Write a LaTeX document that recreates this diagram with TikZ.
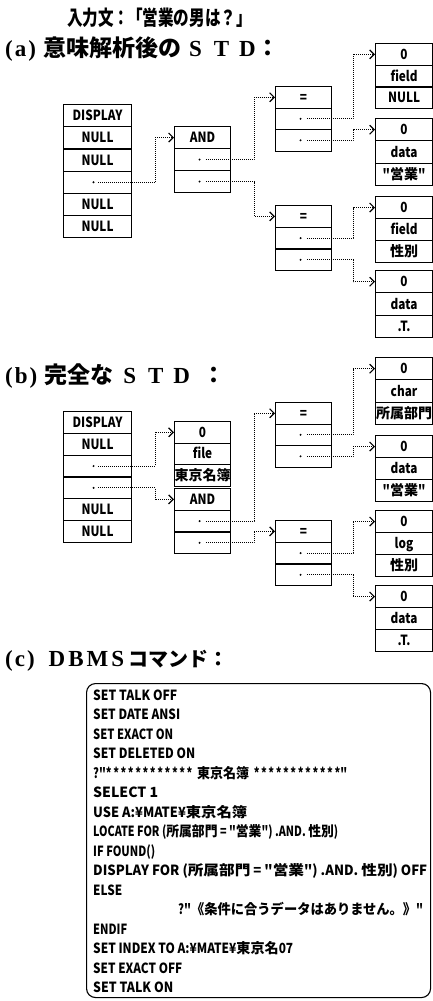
\documentclass[tikz,border=0pt]{standalone}
\usepackage{fontspec}
\setmainfont{Liberation Serif}
\newfontfamily\jp{Noto Sans CJK JP}
\usetikzlibrary{arrows.meta}
\newcommand\lt[1]{\scalebox{0.84}[1]{\fontsize{14}{14}\selectfont #1}}
\newcommand\ja[1]{{\fontsize{14}{14}\selectfont #1}}
\newcommand\stars{\lt{*\kern2pt*\kern2pt*\kern2pt*\kern2pt*\kern2pt*\kern2pt*\kern2pt*\kern2pt*\kern2pt*\kern2pt*\kern2pt*}}
\newcommand\rec[6]{%
  \foreach \t [count=\i] in {#6} {%
    \node[cell, minimum width=#4pt, minimum height=#5pt] (#1\i) at (#2,{#3+(\i-1)*#5}) {\t};
  }}
\begin{document}
\begin{tikzpicture}[x=1pt,y=-1pt,
  cell/.style={draw, line width=1.1pt, inner sep=0pt, anchor=north west,
    font=\jp\bfseries, text height=10pt, text depth=0pt, align=center},
  dotn/.style={circle, fill, inner sep=0pt, minimum size=2.2pt},
  conn/.style={line width=0.9pt, dash pattern=on 0.9pt off 1.1pt,
    -{Straight Barb[length=4.5pt,width=9pt,line width=1.2pt]}},
  hd/.style={anchor=base west, inner sep=0pt, font=\bfseries\fontsize{23}{23}\selectfont},
  code/.style={anchor=base west, inner sep=0pt, font=\jp\bfseries}]
\useasboundingbox (0,0) rectangle (433,1001);

% column x positions for connector bends
\coordinate (c1) at (155,0);
\coordinate (c2) at (254,0);
\coordinate (c3) at (353,0);

% ---------- title and headings ----------
\node[anchor=base west, inner sep=0pt] (title) at (67,25.2)
  {\scalebox{0.76}[1]{\jp\bfseries\fontsize{20.5}{20.5}\selectfont 入力文：\kern-3pt「営業の男は？」}};
\node[hd] (ha) at (5,56.5)
  {(\kern2pt a\kern2pt)\kern7pt{\jp 意味解析後の}\kern8pt S\kern12pt T\kern10pt D\kern1pt{\jp ：}};
\node[hd] (hb) at (5,383.5)
  {(\kern2pt b\kern2pt)\kern7pt{\jp 完全な}\kern10pt S\kern12pt T\kern10pt D\kern12pt{\jp ：}};
\node[hd] (hc) at (5,666.5)
  {(\kern2pt c\kern2pt)\kern14pt D\kern3pt B\kern3pt M\kern3pt S\kern4pt{\jp\fontsize{20}{20}\selectfont コマンド：}};

% ---------- (a) ----------
\rec{aS}{63}{104}{68}{22.2}{\lt{DISPLAY},\lt{NULL},\lt{NULL},{},\lt{NULL},\lt{NULL}}
\rec{aA}{174}{126}{56}{22}{\lt{AND},{},{}}
\rec{aE}{275}{86}{56}{21.5}{\lt{=},{},{}}
\rec{aF}{275}{205}{56}{21.7}{\lt{=},{},{}}
\rec{aP}{375}{43}{57}{21.7}{\lt{0},\lt{field},\lt{NULL}}
\rec{aQ}{375}{118}{57}{22.3}{\lt{0},\lt{data},\lt{"}\ja{営業}\lt{"}}
\rec{aU}{375}{196}{57}{22}{\lt{0},\lt{field},\ja{性別}}
\rec{aV}{375}{270}{57}{22.3}{\lt{0},\lt{data},\lt{.T.}}

\node[dotn] (aSd) at ([xshift=-4pt]aS4.center) {};
\node[dotn] (aAd2) at ([xshift=-3pt]aA2.center) {};
\node[dotn] (aAd3) at ([xshift=-3pt]aA3.center) {};
\node[dotn] (aEd2) at ([xshift=-3pt]aE2.center) {};
\node[dotn] (aEd3) at ([xshift=-3pt]aE3.center) {};
\node[dotn] (aFd2) at ([xshift=-3pt]aF2.center) {};
\node[dotn] (aFd3) at ([xshift=-3pt]aF3.center) {};

\draw[conn] ([xshift=3pt]aSd.east) -- (aSd -| c1) |- (aA1.west);
\draw[conn] ([xshift=5pt]aAd2.east) -- (aAd2 -| c2) |- (aE1.west);
\draw[conn] ([xshift=5pt]aAd3.east) -- (aAd3 -| c2) |- (aF1.west);
\draw[conn] ([xshift=5pt]aEd2.east) -- (aEd2 -| c3) |- (aP1.west);
\draw[conn] ([xshift=5pt]aEd3.east) -- (aEd3 -| c3) |- (aQ1.west);
\draw[conn] ([xshift=5pt]aFd2.east) -- (aFd2 -| c3) |- (aU1.west);
\draw[conn] ([xshift=5pt]aFd3.east) -- (aFd3 -| c3) |- (aV1.west);

% ---------- (b) ----------
\rec{bS}{63}{411}{68}{21.8}{\lt{DISPLAY},\lt{NULL},{},{},\lt{NULL},\lt{NULL}}
\rec{bK}{174}{421}{56}{21.5}{\lt{0},\lt{file},\ja{東京名簿}}
\rec{bA}{174}{488}{56}{21.7}{\lt{AND},{},{}}
\rec{bE}{275}{402}{56}{21.5}{\lt{=},{},{}}
\rec{bF}{275}{520}{56}{21.7}{\lt{=},{},{}}
\rec{bP}{375}{357}{57}{22.3}{\lt{0},\lt{char},\ja{所属部門}}
\rec{bQ}{375}{435}{57}{22}{\lt{0},\lt{data},\lt{"}\ja{営業}\lt{"}}
\rec{bU}{375}{510}{57}{22}{\lt{0},\lt{log},\ja{性別}}
\rec{bV}{375}{585}{57}{22}{\lt{0},\lt{data},\lt{.T.}}

\node[dotn] (bSd3) at ([xshift=-4pt]bS3.center) {};
\node[dotn] (bSd4) at ([xshift=-4pt]bS4.center) {};
\node[dotn] (bAd2) at ([xshift=-3pt]bA2.center) {};
\node[dotn] (bAd3) at ([xshift=-3pt]bA3.center) {};
\node[dotn] (bEd2) at ([xshift=-3pt]bE2.center) {};
\node[dotn] (bEd3) at ([xshift=-3pt]bE3.center) {};
\node[dotn] (bFd2) at ([xshift=-3pt]bF2.center) {};
\node[dotn] (bFd3) at ([xshift=-3pt]bF3.center) {};

\draw[conn] ([xshift=3pt]bSd3.east) -- (bSd3 -| c1) |- (bK1.west);
\draw[conn] ([xshift=3pt]bSd4.east) -- (bSd4 -| c1) |- (bA1.west);
\draw[conn] ([xshift=5pt]bAd2.east) -- (bAd2 -| c2) |- (bE1.west);
\draw[conn] ([xshift=5pt]bAd3.east) -- (bAd3 -| c2) |- (bF1.west);
\draw[conn] ([xshift=5pt]bEd2.east) -- (bEd2 -| c3) |- (bP1.west);
\draw[conn] ([xshift=5pt]bEd3.east) -- (bEd3 -| c3) |- (bQ1.west);
\draw[conn] ([xshift=5pt]bFd2.east) -- (bFd2 -| c3) |- (bU1.west);
\draw[conn] ([xshift=5pt]bFd3.east) -- (bFd3 -| c3) |- (bV1.west);

% ---------- (c) ----------
\node[draw, line width=1.1pt, rounded corners=9pt, minimum width=344pt, minimum height=314pt,
  inner sep=0pt, anchor=north west] (cb) at (86,683) {};
\foreach \x/\w/\ln [count=\i] in {
  93/84/{\lt{SET TALK OFF}},
  93/87/{\lt{SET DATE ANSI}},
  93/80/{\lt{SET EXACT ON}},
  93/102/{\lt{SET DELETED ON}},
  93/254/{\lt{?"}\stars\kern5pt\ja{東京名簿}\kern5pt\stars\lt{"}},
  93/65/{\lt{SELECT 1}},
  93/154/{\lt{USE A:¥MATE¥}\ja{東京名簿}},
  93/245/{\lt{LOCATE FOR (}\ja{所属部門}\lt{ = "}\ja{営業}\lt{") .AND. }\ja{性別}\lt{)}},
  93/62/{\lt{IF FOUND()}},
  93/334/{\lt{DISPLAY FOR (}\ja{所属部門}\lt{ = "}\ja{営業}\lt{") .AND. }\ja{性別}\lt{) OFF}},
  93/29/{\lt{ELSE}},
  178/245/{\lt{?"}\ja{《条件に合うデータはありません。》}\lt{"}},
  93/34/{\lt{ENDIF}},
  93/200/{\lt{SET INDEX TO A:¥MATE¥}\ja{東京名}\lt{07}},
  93/89/{\lt{SET EXACT OFF}},
  93/80/{\lt{SET TALK ON}}} {
  \node[code] (l\i) at (\x,{700+(\i-1)*19.5}) {\resizebox{\w pt}{\height}{\ln}};
}
\end{tikzpicture}
\end{document}
